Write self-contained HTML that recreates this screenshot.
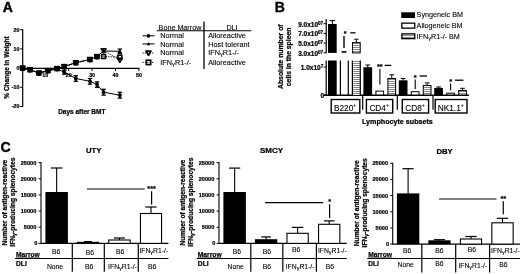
<!DOCTYPE html>
<html><head><meta charset="utf-8"><title>Figure</title>
<style>
html,body{margin:0;padding:0;background:#fff;}
svg{display:block;font-family:"Liberation Sans",Arial,sans-serif;fill:#000;}
text{stroke:#000;stroke-width:0.1px;}
text[font-weight="bold"]{stroke-width:0.22px;}
</style></head><body>
<svg width="520" height="274" viewBox="0 0 520 274">
<defs><pattern id="st" width="4" height="2" patternUnits="userSpaceOnUse"><rect width="4" height="2" fill="#fff"/><rect y="1" width="4" height="1" fill="#8a8a8a"/></pattern></defs>
<rect width="520" height="274" fill="#fff"/>
<text x="2.70" y="12.10" font-size="14" font-weight="bold" text-anchor="start" style="stroke-width:0.4px">A</text>
<line x1="22.70" y1="29.20" x2="22.70" y2="107.10" stroke="#000" stroke-width="1.2" />
<line x1="20.10" y1="29.70" x2="22.70" y2="29.70" stroke="#000" stroke-width="1" />
<text x="19.40" y="31.60" font-size="5.3" font-weight="bold" text-anchor="end" >20</text>
<line x1="20.10" y1="48.90" x2="22.70" y2="48.90" stroke="#000" stroke-width="1" />
<text x="19.40" y="50.80" font-size="5.3" font-weight="bold" text-anchor="end" >10</text>
<line x1="20.10" y1="68.10" x2="22.70" y2="68.10" stroke="#000" stroke-width="1" />
<text x="19.40" y="70.00" font-size="5.3" font-weight="bold" text-anchor="end" >0</text>
<line x1="20.10" y1="87.30" x2="22.70" y2="87.30" stroke="#000" stroke-width="1" />
<text x="19.40" y="89.20" font-size="5.3" font-weight="bold" text-anchor="end" >-10</text>
<line x1="20.10" y1="106.50" x2="22.70" y2="106.50" stroke="#000" stroke-width="1" />
<text x="19.40" y="108.40" font-size="5.3" font-weight="bold" text-anchor="end" >-20</text>
<line x1="22.70" y1="68.30" x2="139.40" y2="68.30" stroke="#000" stroke-width="1.2" />
<line x1="45.30" y1="68.30" x2="45.30" y2="71.10" stroke="#000" stroke-width="1" />
<text x="45.30" y="76.60" font-size="5.3" font-weight="bold" text-anchor="middle" >10</text>
<line x1="68.70" y1="68.30" x2="68.70" y2="71.10" stroke="#000" stroke-width="1" />
<text x="68.70" y="76.60" font-size="5.3" font-weight="bold" text-anchor="middle" >20</text>
<line x1="92.10" y1="68.30" x2="92.10" y2="71.10" stroke="#000" stroke-width="1" />
<text x="92.10" y="76.60" font-size="5.3" font-weight="bold" text-anchor="middle" >30</text>
<line x1="115.50" y1="68.30" x2="115.50" y2="71.10" stroke="#000" stroke-width="1" />
<text x="115.50" y="76.60" font-size="5.3" font-weight="bold" text-anchor="middle" >40</text>
<line x1="138.90" y1="68.30" x2="138.90" y2="71.10" stroke="#000" stroke-width="1" />
<text x="138.90" y="76.60" font-size="5.3" font-weight="bold" text-anchor="middle" >50</text>
<text transform="translate(8.60,67.50) rotate(-90)" font-size="6.5" font-weight="bold" text-anchor="middle">% Change in Weight</text>
<text x="81.80" y="114.30" font-size="6.5" font-weight="bold" text-anchor="middle" >Days after BMT</text>
<polyline points="22.60,68.20 30.00,69.70 38.90,73.10 48.10,70.60 57.10,69.00 64.30,72.20 75.80,78.50 90.00,81.30 97.05,84.60 103.60,92.20 119.85,95.20" fill="none" stroke="#000" stroke-width="1"/>
<circle cx="22.60" cy="68.20" r="1.9" fill="#000"/>
<circle cx="30.00" cy="69.70" r="1.9" fill="#000"/>
<circle cx="38.90" cy="73.10" r="1.9" fill="#000"/>
<circle cx="48.10" cy="70.60" r="1.9" fill="#000"/>
<line x1="57.10" y1="67.80" x2="57.10" y2="70.20" stroke="#000" stroke-width="1.5" />
<line x1="54.90" y1="67.80" x2="59.30" y2="67.80" stroke="#000" stroke-width="1.3" />
<line x1="54.90" y1="70.20" x2="59.30" y2="70.20" stroke="#000" stroke-width="1.3" />
<circle cx="57.10" cy="69.00" r="1.9" fill="#000"/>
<line x1="64.30" y1="70.20" x2="64.30" y2="74.20" stroke="#000" stroke-width="1.5" />
<line x1="62.10" y1="70.20" x2="66.50" y2="70.20" stroke="#000" stroke-width="1.3" />
<line x1="62.10" y1="74.20" x2="66.50" y2="74.20" stroke="#000" stroke-width="1.3" />
<circle cx="64.30" cy="72.20" r="1.9" fill="#000"/>
<line x1="75.80" y1="75.70" x2="75.80" y2="81.30" stroke="#000" stroke-width="1.5" />
<line x1="73.60" y1="75.70" x2="78.00" y2="75.70" stroke="#000" stroke-width="1.3" />
<line x1="73.60" y1="81.30" x2="78.00" y2="81.30" stroke="#000" stroke-width="1.3" />
<circle cx="75.80" cy="78.50" r="1.9" fill="#000"/>
<line x1="90.00" y1="78.50" x2="90.00" y2="84.10" stroke="#000" stroke-width="1.5" />
<line x1="87.80" y1="78.50" x2="92.20" y2="78.50" stroke="#000" stroke-width="1.3" />
<line x1="87.80" y1="84.10" x2="92.20" y2="84.10" stroke="#000" stroke-width="1.3" />
<circle cx="90.00" cy="81.30" r="1.9" fill="#000"/>
<line x1="97.05" y1="81.90" x2="97.05" y2="87.30" stroke="#000" stroke-width="1.5" />
<line x1="94.85" y1="81.90" x2="99.25" y2="81.90" stroke="#000" stroke-width="1.3" />
<line x1="94.85" y1="87.30" x2="99.25" y2="87.30" stroke="#000" stroke-width="1.3" />
<circle cx="97.05" cy="84.60" r="1.9" fill="#000"/>
<line x1="103.60" y1="89.30" x2="103.60" y2="95.10" stroke="#000" stroke-width="1.5" />
<line x1="101.40" y1="89.30" x2="105.80" y2="89.30" stroke="#000" stroke-width="1.3" />
<line x1="101.40" y1="95.10" x2="105.80" y2="95.10" stroke="#000" stroke-width="1.3" />
<circle cx="103.60" cy="92.20" r="1.9" fill="#000"/>
<line x1="119.85" y1="92.30" x2="119.85" y2="98.10" stroke="#000" stroke-width="1.5" />
<line x1="117.65" y1="92.30" x2="122.05" y2="92.30" stroke="#000" stroke-width="1.3" />
<line x1="117.65" y1="98.10" x2="122.05" y2="98.10" stroke="#000" stroke-width="1.3" />
<circle cx="119.85" cy="95.20" r="1.9" fill="#000"/>
<polyline points="22.60,68.20 30.00,69.70 38.90,73.10 48.10,70.60 57.10,68.60 64.30,66.60 75.80,62.70 90.00,59.50 97.05,56.60 103.60,51.00 119.85,51.30" fill="none" stroke="#000" stroke-width="1"/>
<line x1="119.85" y1="49.00" x2="119.85" y2="53.70" stroke="#000" stroke-width="1.2" />
<line x1="117.65" y1="49.00" x2="122.05" y2="49.00" stroke="#000" stroke-width="1.2" />
<line x1="117.65" y1="53.60" x2="122.05" y2="53.60" stroke="#000" stroke-width="1.2" />
<polygon points="20.20,70.20 25.00,70.20 22.60,65.70" fill="#000"/>
<polygon points="27.60,71.70 32.40,71.70 30.00,67.20" fill="#000"/>
<polygon points="36.50,75.10 41.30,75.10 38.90,70.60" fill="#000"/>
<polygon points="45.70,72.60 50.50,72.60 48.10,68.10" fill="#000"/>
<polygon points="54.70,70.60 59.50,70.60 57.10,66.10" fill="#000"/>
<polygon points="61.90,68.60 66.70,68.60 64.30,64.10" fill="#000"/>
<polygon points="73.40,64.70 78.20,64.70 75.80,60.20" fill="#000"/>
<polygon points="87.60,61.50 92.40,61.50 90.00,57.00" fill="#000"/>
<polygon points="94.65,58.60 99.45,58.60 97.05,54.10" fill="#000"/>
<polygon points="101.20,53.00 106.00,53.00 103.60,48.50" fill="#000"/>
<polygon points="117.45,53.30 122.25,53.30 119.85,48.80" fill="#000"/>
<polyline points="22.60,68.20 30.00,69.70 38.90,73.10 48.10,70.60 57.10,68.60 64.30,66.60 75.80,62.70 90.00,59.50 97.05,56.60 103.60,50.50 119.85,60.00" fill="none" stroke="#000" stroke-width="1" stroke-dasharray="1.2 1.2"/>
<polygon points="20.20,66.40 25.00,66.40 22.60,70.50" fill="none" stroke="#000" stroke-width="1.6" stroke-linejoin="round"/>
<polygon points="27.60,67.90 32.40,67.90 30.00,72.00" fill="none" stroke="#000" stroke-width="1.6" stroke-linejoin="round"/>
<polygon points="36.50,71.30 41.30,71.30 38.90,75.40" fill="none" stroke="#000" stroke-width="1.6" stroke-linejoin="round"/>
<polygon points="45.70,68.80 50.50,68.80 48.10,72.90" fill="none" stroke="#000" stroke-width="1.6" stroke-linejoin="round"/>
<polygon points="54.70,66.80 59.50,66.80 57.10,70.90" fill="none" stroke="#000" stroke-width="1.6" stroke-linejoin="round"/>
<polygon points="61.90,64.80 66.70,64.80 64.30,68.90" fill="none" stroke="#000" stroke-width="1.6" stroke-linejoin="round"/>
<polygon points="73.40,60.90 78.20,60.90 75.80,65.00" fill="none" stroke="#000" stroke-width="1.6" stroke-linejoin="round"/>
<polygon points="87.60,57.70 92.40,57.70 90.00,61.80" fill="none" stroke="#000" stroke-width="1.6" stroke-linejoin="round"/>
<polygon points="94.65,54.80 99.45,54.80 97.05,58.90" fill="none" stroke="#000" stroke-width="1.6" stroke-linejoin="round"/>
<polygon points="101.20,48.70 106.00,48.70 103.60,52.80" fill="none" stroke="#000" stroke-width="1.6" stroke-linejoin="round"/>
<polygon points="117.45,58.20 122.25,58.20 119.85,62.30" fill="none" stroke="#000" stroke-width="1.6" stroke-linejoin="round"/>
<polyline points="22.60,68.20 30.00,69.70 38.90,73.10 48.10,70.60 57.10,68.60 64.30,66.60 75.80,62.70 90.00,59.50 97.05,56.60 103.60,56.50 119.85,57.20" fill="none" stroke="#000" stroke-width="1" stroke-dasharray="1.2 1.2"/>
<rect x="20.65" y="66.25" width="3.9" height="3.9" fill="none" stroke="#000" stroke-width="1.6"/>
<rect x="28.05" y="67.75" width="3.9" height="3.9" fill="none" stroke="#000" stroke-width="1.6"/>
<rect x="36.95" y="71.15" width="3.9" height="3.9" fill="none" stroke="#000" stroke-width="1.6"/>
<rect x="46.15" y="68.65" width="3.9" height="3.9" fill="none" stroke="#000" stroke-width="1.6"/>
<rect x="55.15" y="66.65" width="3.9" height="3.9" fill="none" stroke="#000" stroke-width="1.6"/>
<rect x="62.35" y="64.65" width="3.9" height="3.9" fill="none" stroke="#000" stroke-width="1.6"/>
<rect x="73.85" y="60.75" width="3.9" height="3.9" fill="none" stroke="#000" stroke-width="1.6"/>
<rect x="88.05" y="57.55" width="3.9" height="3.9" fill="none" stroke="#000" stroke-width="1.6"/>
<rect x="95.10" y="54.65" width="3.9" height="3.9" fill="none" stroke="#000" stroke-width="1.6"/>
<rect x="101.65" y="54.55" width="3.9" height="3.9" fill="none" stroke="#000" stroke-width="1.6"/>
<rect x="117.90" y="55.25" width="3.9" height="3.9" fill="none" stroke="#000" stroke-width="1.6"/>
<text x="158.60" y="29.80" font-size="7.2" text-anchor="start" >Bone Marrow</text>
<text x="226.40" y="29.80" font-size="7.2" text-anchor="start" >DLI</text>
<line x1="156.60" y1="30.80" x2="251.20" y2="30.80" stroke="#000" stroke-width="1.1" />
<line x1="204.00" y1="21.50" x2="204.00" y2="69.00" stroke="#000" stroke-width="1.3" />
<text x="160.30" y="38.40" font-size="7.3" text-anchor="start" >Normal</text>
<text x="208.20" y="38.40" font-size="7.3" text-anchor="start" >Alloreactive</text>
<text x="160.30" y="46.50" font-size="7.3" text-anchor="start" >Normal</text>
<text x="208.20" y="46.50" font-size="7.3" text-anchor="start" >Host tolerant</text>
<text x="160.30" y="55.30" font-size="7.3" text-anchor="start" >Normal</text>
<text x="208.20" y="55.30" font-size="7.3" text-anchor="start" >IFN<tspan font-size="5.76" dy="1.1">γ</tspan><tspan dy="-1.1">R1-/-</tspan></text>
<text x="160.30" y="64.80" font-size="7.3" text-anchor="start" >IFN<tspan font-size="5.76" dy="1.1">γ</tspan><tspan dy="-1.1">R1-/-</tspan></text>
<text x="208.20" y="64.80" font-size="7.3" text-anchor="start" >Alloreactive</text>
<line x1="142.50" y1="35.80" x2="154.50" y2="35.80" stroke="#000" stroke-width="1" />
<circle cx="148.5" cy="35.8" r="1.9" fill="#000"/>
<line x1="142.50" y1="43.90" x2="154.50" y2="43.90" stroke="#000" stroke-width="1" />
<polygon points="146.7,45.3 150.3,45.3 148.5,42.1" fill="#000"/>
<line x1="142.50" y1="53.00" x2="154.50" y2="53.00" stroke="#000" stroke-width="1" stroke-dasharray="1.2 1.2"/>
<polygon points="146.1,51.1 150.9,51.1 148.5,55.2" fill="#fff" stroke="#000" stroke-width="1.8" stroke-linejoin="round"/>
<line x1="142.50" y1="62.40" x2="154.50" y2="62.40" stroke="#000" stroke-width="1" stroke-dasharray="1.2 1.2"/>
<rect x="146.3" y="60.199999999999996" width="4.4" height="4.4" fill="none" stroke="#000" stroke-width="1.6"/>
<text x="274.80" y="11.90" font-size="14" font-weight="bold" text-anchor="start" style="stroke-width:0.4px">B</text>
<line x1="326.20" y1="19.00" x2="326.20" y2="53.20" stroke="#000" stroke-width="1.2" />
<line x1="323.60" y1="23.70" x2="326.20" y2="23.70" stroke="#000" stroke-width="1" />
<text x="323.20" y="26.70" font-size="6.5" font-weight="bold" text-anchor="end" >9.0x10<tspan font-size="4.6" dy="-2.1">07</tspan></text>
<line x1="323.60" y1="33.40" x2="326.20" y2="33.40" stroke="#000" stroke-width="1" />
<text x="323.20" y="36.40" font-size="6.5" font-weight="bold" text-anchor="end" >7.0x10<tspan font-size="4.6" dy="-2.1">07</tspan></text>
<line x1="323.60" y1="43.10" x2="326.20" y2="43.10" stroke="#000" stroke-width="1" />
<text x="323.20" y="46.10" font-size="6.5" font-weight="bold" text-anchor="end" >5.0x10<tspan font-size="4.6" dy="-2.1">07</tspan></text>
<line x1="323.60" y1="52.80" x2="326.20" y2="52.80" stroke="#000" stroke-width="1" />
<text x="323.20" y="55.80" font-size="6.5" font-weight="bold" text-anchor="end" >3.0x10<tspan font-size="4.6" dy="-2.1">07</tspan></text>
<line x1="326.20" y1="60.40" x2="326.20" y2="95.40" stroke="#000" stroke-width="1.2" />
<line x1="323.60" y1="67.10" x2="326.20" y2="67.10" stroke="#000" stroke-width="1" />
<text x="323.20" y="70.00" font-size="6.5" font-weight="bold" text-anchor="end" >1.0x10<tspan font-size="4.6" dy="-2.1">7</tspan></text>
<line x1="323.60" y1="95.00" x2="326.20" y2="95.00" stroke="#000" stroke-width="1" />
<text x="324.00" y="97.60" font-size="6.5" font-weight="bold" text-anchor="end" >0</text>
<line x1="323.60" y1="95.30" x2="468.90" y2="95.30" stroke="#000" stroke-width="1.4" />
<text transform="translate(282.90,56.70) rotate(-90)" font-size="6.85" font-weight="bold" text-anchor="middle">Absolute number of</text>
<text transform="translate(291.40,56.90) rotate(-90)" font-size="6.8" font-weight="bold" text-anchor="middle">cells in the spleen</text>
<rect x="328.00" y="60.50" width="8.70" height="34.50" fill="#000" />
<line x1="340.40" y1="60.50" x2="340.40" y2="95.00" stroke="#000" stroke-width="1.2" />
<line x1="348.30" y1="60.50" x2="348.30" y2="95.00" stroke="#000" stroke-width="1.2" />
<rect x="352.50" y="60.50" width="7.70" height="34.50" fill="url(#st)" />
<line x1="352.40" y1="60.50" x2="352.40" y2="95.00" stroke="#000" stroke-width="1.2" />
<line x1="360.30" y1="60.50" x2="360.30" y2="95.00" stroke="#000" stroke-width="1.2" />
<rect x="328.00" y="24.00" width="8.70" height="28.90" fill="#000" />
<line x1="332.35" y1="24.00" x2="332.35" y2="20.60" stroke="#000" stroke-width="1" />
<line x1="329.55" y1="20.60" x2="335.15" y2="20.60" stroke="#000" stroke-width="1" />
<line x1="341.60" y1="51.90" x2="346.40" y2="51.90" stroke="#000" stroke-width="1.6" />
<rect x="352.50" y="42.60" width="7.70" height="10.30" fill="url(#st)" stroke="#000" stroke-width="1" />
<line x1="356.35" y1="42.10" x2="356.35" y2="39.20" stroke="#000" stroke-width="1" />
<line x1="354.15" y1="39.20" x2="358.55" y2="39.20" stroke="#000" stroke-width="1" />
<text x="345.20" y="36.00" font-size="7" font-weight="bold" text-anchor="middle" >*</text>
<line x1="344.00" y1="36.00" x2="344.00" y2="48.00" stroke="#000" stroke-width="1.4" />
<line x1="350.30" y1="32.80" x2="355.50" y2="32.80" stroke="#000" stroke-width="1.3" />
<rect x="363.40" y="67.20" width="8.70" height="27.80" fill="#000" />
<line x1="367.75" y1="67.20" x2="367.75" y2="65.00" stroke="#000" stroke-width="1" />
<line x1="365.35" y1="65.00" x2="370.15" y2="65.00" stroke="#000" stroke-width="1" />
<rect x="375.90" y="91.10" width="7.70" height="3.90" fill="#fff" stroke="#000" stroke-width="1" />
<rect x="387.90" y="78.50" width="7.70" height="16.50" fill="url(#st)" stroke="#000" stroke-width="1" />
<line x1="391.75" y1="78.00" x2="391.75" y2="74.80" stroke="#000" stroke-width="1" />
<line x1="389.35" y1="74.80" x2="394.15" y2="74.80" stroke="#000" stroke-width="1" />
<rect x="398.80" y="80.30" width="8.70" height="14.70" fill="#000" />
<line x1="403.15" y1="80.30" x2="403.15" y2="78.50" stroke="#000" stroke-width="1" />
<line x1="400.75" y1="78.50" x2="405.55" y2="78.50" stroke="#000" stroke-width="1" />
<rect x="411.30" y="91.70" width="7.70" height="3.30" fill="#fff" stroke="#000" stroke-width="1" />
<rect x="423.30" y="85.50" width="7.70" height="9.50" fill="url(#st)" stroke="#000" stroke-width="1" />
<line x1="427.15" y1="85.00" x2="427.15" y2="82.90" stroke="#000" stroke-width="1" />
<line x1="424.75" y1="82.90" x2="429.55" y2="82.90" stroke="#000" stroke-width="1" />
<rect x="434.20" y="87.90" width="8.70" height="7.10" fill="#000" />
<line x1="438.55" y1="87.90" x2="438.55" y2="87.00" stroke="#000" stroke-width="1" />
<line x1="436.15" y1="87.00" x2="440.95" y2="87.00" stroke="#000" stroke-width="1" />
<rect x="446.70" y="93.20" width="7.70" height="1.80" fill="#fff" stroke="#000" stroke-width="1" />
<rect x="458.70" y="90.50" width="7.70" height="4.50" fill="url(#st)" stroke="#000" stroke-width="1" />
<line x1="462.55" y1="90.00" x2="462.55" y2="88.30" stroke="#000" stroke-width="1" />
<line x1="460.15" y1="88.30" x2="464.95" y2="88.30" stroke="#000" stroke-width="1" />
<text x="379.80" y="69.00" font-size="7.5" font-weight="bold" text-anchor="middle" >**</text>
<line x1="379.90" y1="69.00" x2="379.90" y2="84.60" stroke="#000" stroke-width="1.1" />
<line x1="384.60" y1="65.40" x2="391.30" y2="65.40" stroke="#000" stroke-width="1.3" />
<text x="415.20" y="80.20" font-size="7.5" font-weight="bold" text-anchor="middle" >*</text>
<line x1="415.20" y1="79.60" x2="415.20" y2="89.00" stroke="#000" stroke-width="1.1" />
<line x1="419.60" y1="76.00" x2="427.00" y2="76.00" stroke="#000" stroke-width="1.3" />
<text x="450.60" y="84.40" font-size="7.5" font-weight="bold" text-anchor="middle" >*</text>
<line x1="450.60" y1="83.60" x2="450.60" y2="90.20" stroke="#000" stroke-width="1.1" />
<line x1="455.00" y1="80.20" x2="463.40" y2="80.20" stroke="#000" stroke-width="1.3" />
<rect x="331.20" y="99.50" width="28.60" height="13.50" fill="#fff" stroke="#000" stroke-width="1.4" />
<text x="345.10" y="110.60" font-size="8.3" text-anchor="middle" >B220<tspan font-size="5" dy="-3.6">+</tspan></text>
<rect x="366.40" y="99.50" width="26.30" height="13.50" fill="#fff" stroke="#000" stroke-width="1.4" />
<text x="379.15" y="110.60" font-size="8.3" text-anchor="middle" >CD4<tspan font-size="5" dy="-3.6">+</tspan></text>
<rect x="402.30" y="99.50" width="26.30" height="13.50" fill="#fff" stroke="#000" stroke-width="1.4" />
<text x="415.05" y="110.60" font-size="8.3" text-anchor="middle" >CD8<tspan font-size="5" dy="-3.6">+</tspan></text>
<rect x="435.20" y="99.50" width="31.80" height="13.50" fill="#fff" stroke="#000" stroke-width="1.4" />
<text x="450.70" y="110.60" font-size="8.3" text-anchor="middle" >NK1.1<tspan font-size="5" dy="-3.6">+</tspan></text>
<line x1="362.70" y1="95.00" x2="362.70" y2="109.80" stroke="#000" stroke-width="1.2" />
<line x1="397.30" y1="95.00" x2="397.30" y2="109.80" stroke="#000" stroke-width="1.2" />
<line x1="433.00" y1="95.00" x2="433.00" y2="109.80" stroke="#000" stroke-width="1.2" />
<text x="397.40" y="124.20" font-size="7.15" font-weight="bold" text-anchor="middle" >Lymphocyte subsets</text>
<rect x="401.20" y="12.30" width="13.80" height="5.70" fill="#000" />
<rect x="401.85" y="23.15" width="12.90" height="5.00" fill="#fff" stroke="#000" stroke-width="1.3" />
<rect x="401.85" y="33.85" width="12.90" height="4.80" fill="url(#st)" stroke="#000" stroke-width="1.3" />
<text x="416.60" y="17.20" font-size="7.2" text-anchor="start" >Syngeneic BM</text>
<text x="416.60" y="28.20" font-size="7.2" text-anchor="start" >Allogeneic BM</text>
<text x="416.60" y="39.10" font-size="7.2" text-anchor="start" >IFN<tspan font-size="5.76" dy="1.1">γ</tspan><tspan dy="-1.1">R1-/-</tspan> BM</text>
<text x="0.60" y="151.80" font-size="14" font-weight="bold" text-anchor="start" style="stroke-width:0.4px">C</text>
<line x1="41.00" y1="162.10" x2="41.00" y2="243.90" stroke="#000" stroke-width="1.1" />
<line x1="38.60" y1="243.40" x2="41.00" y2="243.40" stroke="#000" stroke-width="1" />
<text x="37.40" y="245.35" font-size="5.6" font-weight="bold" text-anchor="end" >0</text>
<line x1="38.60" y1="227.24" x2="41.00" y2="227.24" stroke="#000" stroke-width="1" />
<text x="36.30" y="229.19" font-size="5.6" font-weight="bold" text-anchor="end" >5000</text>
<line x1="38.60" y1="211.08" x2="41.00" y2="211.08" stroke="#000" stroke-width="1" />
<text x="36.30" y="213.03" font-size="5.6" font-weight="bold" text-anchor="end" >10000</text>
<line x1="38.60" y1="194.92" x2="41.00" y2="194.92" stroke="#000" stroke-width="1" />
<text x="36.30" y="196.87" font-size="5.6" font-weight="bold" text-anchor="end" >15000</text>
<line x1="38.60" y1="178.76" x2="41.00" y2="178.76" stroke="#000" stroke-width="1" />
<text x="36.30" y="180.71" font-size="5.6" font-weight="bold" text-anchor="end" >20000</text>
<line x1="38.60" y1="162.60" x2="41.00" y2="162.60" stroke="#000" stroke-width="1" />
<text x="36.30" y="164.55" font-size="5.6" font-weight="bold" text-anchor="end" >25000</text>
<line x1="41.00" y1="243.40" x2="168.40" y2="243.40" stroke="#000" stroke-width="1.1" />
<text transform="translate(7.40,202.60) rotate(-90)" font-size="6.64" font-weight="bold" text-anchor="middle">Number of antigen-reactive</text>
<text transform="translate(15.20,202.10) rotate(-90)" font-size="6.7" font-weight="bold" text-anchor="middle">IFN<tspan font-size="5.4" dy="1">γ</tspan><tspan dy="-1">-producing splenocytes</tspan></text>
<text x="93.70" y="152.90" font-size="7.7" font-weight="bold" text-anchor="middle" >UTY</text>
<line x1="56.65" y1="192.40" x2="56.65" y2="168.00" stroke="#000" stroke-width="1.1" />
<line x1="50.85" y1="168.00" x2="62.45" y2="168.00" stroke="#000" stroke-width="1.2" />
<rect x="45.40" y="192.00" width="22.50" height="51.40" fill="#000" />
<line x1="88.05" y1="242.20" x2="88.05" y2="241.60" stroke="#000" stroke-width="1.1" />
<line x1="84.05" y1="241.60" x2="92.05" y2="241.60" stroke="#000" stroke-width="1.2" />
<rect x="76.80" y="241.80" width="22.50" height="1.60" fill="#000" />
<line x1="119.45" y1="240.00" x2="119.45" y2="238.00" stroke="#000" stroke-width="1.1" />
<line x1="113.85" y1="238.00" x2="125.05" y2="238.00" stroke="#000" stroke-width="1.2" />
<rect x="108.75" y="240.00" width="21.40" height="3.40" fill="#fff" stroke="#000" stroke-width="1.1" />
<line x1="151.00" y1="213.50" x2="151.00" y2="207.00" stroke="#000" stroke-width="1.1" />
<line x1="145.40" y1="207.00" x2="156.60" y2="207.00" stroke="#000" stroke-width="1.2" />
<rect x="140.45" y="213.50" width="21.10" height="29.90" fill="#fff" stroke="#000" stroke-width="1.1" />
<line x1="87.00" y1="189.00" x2="144.60" y2="189.00" stroke="#000" stroke-width="1.2" />
<text x="151.60" y="190.70" font-size="7.3" font-weight="bold" text-anchor="middle" >***</text>
<line x1="151.60" y1="191.20" x2="151.60" y2="204.60" stroke="#000" stroke-width="1.2" />
<line x1="15.00" y1="258.50" x2="168.40" y2="258.50" stroke="#000" stroke-width="1.2" />
<line x1="16.00" y1="257.75" x2="39.60" y2="257.75" stroke="#000" stroke-width="0.6" />
<line x1="72.30" y1="243.40" x2="72.30" y2="271.80" stroke="#000" stroke-width="1.2" />
<line x1="104.30" y1="243.40" x2="104.30" y2="271.80" stroke="#000" stroke-width="1.2" />
<line x1="138.30" y1="243.40" x2="138.30" y2="271.80" stroke="#000" stroke-width="1.2" />
<text x="16.00" y="257.20" font-size="6.7" font-weight="bold" text-anchor="start" >Marrow</text>
<text x="16.00" y="265.90" font-size="6.7" font-weight="bold" text-anchor="start" >DLI</text>
<text x="56.10" y="253.75" font-size="6.8" text-anchor="middle" >B6</text>
<text x="89.90" y="254.65" font-size="6.8" text-anchor="middle" >B6</text>
<text x="120.10" y="253.55" font-size="6.8" text-anchor="middle" >B6</text>
<text x="153.80" y="253.15" font-size="6.8" text-anchor="middle" >IFN<tspan font-size="5.44" dy="1.1">γ</tspan><tspan dy="-1.1">R1-/-</tspan></text>
<text x="55.00" y="268.95" font-size="6.8" text-anchor="middle" >None</text>
<text x="89.20" y="269.35" font-size="6.8" text-anchor="middle" >B6</text>
<text x="122.50" y="269.05" font-size="6.8" text-anchor="middle" >IFN<tspan font-size="5.44" dy="1.1">γ</tspan><tspan dy="-1.1">R1-/-</tspan></text>
<text x="152.20" y="269.05" font-size="6.8" text-anchor="middle" >B6</text>
<line x1="219.00" y1="162.10" x2="219.00" y2="243.90" stroke="#000" stroke-width="1.1" />
<line x1="216.60" y1="243.40" x2="219.00" y2="243.40" stroke="#000" stroke-width="1" />
<text x="215.40" y="245.35" font-size="5.6" font-weight="bold" text-anchor="end" >0</text>
<line x1="216.60" y1="227.24" x2="219.00" y2="227.24" stroke="#000" stroke-width="1" />
<text x="214.30" y="229.19" font-size="5.6" font-weight="bold" text-anchor="end" >5000</text>
<line x1="216.60" y1="211.08" x2="219.00" y2="211.08" stroke="#000" stroke-width="1" />
<text x="214.30" y="213.03" font-size="5.6" font-weight="bold" text-anchor="end" >10000</text>
<line x1="216.60" y1="194.92" x2="219.00" y2="194.92" stroke="#000" stroke-width="1" />
<text x="214.30" y="196.87" font-size="5.6" font-weight="bold" text-anchor="end" >15000</text>
<line x1="216.60" y1="178.76" x2="219.00" y2="178.76" stroke="#000" stroke-width="1" />
<text x="214.30" y="180.71" font-size="5.6" font-weight="bold" text-anchor="end" >20000</text>
<line x1="216.60" y1="162.60" x2="219.00" y2="162.60" stroke="#000" stroke-width="1" />
<text x="214.30" y="164.55" font-size="5.6" font-weight="bold" text-anchor="end" >25000</text>
<line x1="219.00" y1="243.40" x2="346.80" y2="243.40" stroke="#000" stroke-width="1.1" />
<text transform="translate(185.40,202.60) rotate(-90)" font-size="6.64" font-weight="bold" text-anchor="middle">Number of antigen-reactive</text>
<text transform="translate(193.20,202.10) rotate(-90)" font-size="6.7" font-weight="bold" text-anchor="middle">IFN<tspan font-size="5.4" dy="1">γ</tspan><tspan dy="-1">-producing splenocytes</tspan></text>
<text x="271.50" y="152.90" font-size="8.0" font-weight="bold" text-anchor="middle" >SMCY</text>
<line x1="234.65" y1="192.40" x2="234.65" y2="168.10" stroke="#000" stroke-width="1.1" />
<line x1="229.05" y1="168.10" x2="240.25" y2="168.10" stroke="#000" stroke-width="1.2" />
<rect x="223.40" y="192.00" width="22.50" height="51.40" fill="#000" />
<line x1="266.10" y1="239.60" x2="266.10" y2="236.90" stroke="#000" stroke-width="1.1" />
<line x1="261.30" y1="236.90" x2="270.90" y2="236.90" stroke="#000" stroke-width="1.2" />
<rect x="254.90" y="239.20" width="22.40" height="4.20" fill="#000" />
<line x1="297.60" y1="233.30" x2="297.60" y2="227.40" stroke="#000" stroke-width="1.1" />
<line x1="291.80" y1="227.40" x2="303.40" y2="227.40" stroke="#000" stroke-width="1.2" />
<rect x="286.95" y="233.30" width="21.30" height="10.10" fill="#fff" stroke="#000" stroke-width="1.1" />
<line x1="329.20" y1="224.30" x2="329.20" y2="220.90" stroke="#000" stroke-width="1.1" />
<line x1="323.90" y1="220.90" x2="334.50" y2="220.90" stroke="#000" stroke-width="1.2" />
<rect x="318.55" y="224.30" width="21.30" height="19.10" fill="#fff" stroke="#000" stroke-width="1.1" />
<line x1="265.10" y1="202.60" x2="323.20" y2="202.60" stroke="#000" stroke-width="1.2" />
<text x="329.60" y="204.20" font-size="7.3" font-weight="bold" text-anchor="middle" >*</text>
<line x1="329.60" y1="204.20" x2="329.60" y2="218.00" stroke="#000" stroke-width="1.2" />
<line x1="196.80" y1="258.50" x2="346.80" y2="258.50" stroke="#000" stroke-width="1.2" />
<line x1="197.80" y1="257.75" x2="221.40" y2="257.75" stroke="#000" stroke-width="0.6" />
<line x1="250.80" y1="243.40" x2="250.80" y2="271.80" stroke="#000" stroke-width="1.2" />
<line x1="282.80" y1="243.40" x2="282.80" y2="271.80" stroke="#000" stroke-width="1.2" />
<line x1="316.40" y1="243.40" x2="316.40" y2="271.80" stroke="#000" stroke-width="1.2" />
<text x="197.80" y="257.20" font-size="6.7" font-weight="bold" text-anchor="start" >Marrow</text>
<text x="197.80" y="265.90" font-size="6.7" font-weight="bold" text-anchor="start" >DLI</text>
<text x="236.80" y="253.55" font-size="6.8" text-anchor="middle" >B6</text>
<text x="266.80" y="253.55" font-size="6.8" text-anchor="middle" >B6</text>
<text x="296.10" y="252.35" font-size="6.8" text-anchor="middle" >B6</text>
<text x="332.30" y="252.95" font-size="6.8" text-anchor="middle" >IFN<tspan font-size="5.44" dy="1.1">γ</tspan><tspan dy="-1.1">R1-/-</tspan></text>
<text x="235.60" y="268.75" font-size="6.8" text-anchor="middle" >None</text>
<text x="266.80" y="268.75" font-size="6.8" text-anchor="middle" >B6</text>
<text x="300.10" y="268.75" font-size="6.8" text-anchor="middle" >IFN<tspan font-size="5.44" dy="1.1">γ</tspan><tspan dy="-1.1">R1-/-</tspan></text>
<text x="330.00" y="268.75" font-size="6.8" text-anchor="middle" >B6</text>
<line x1="392.70" y1="162.80" x2="392.70" y2="244.60" stroke="#000" stroke-width="1.1" />
<line x1="390.30" y1="244.10" x2="392.70" y2="244.10" stroke="#000" stroke-width="1" />
<text x="389.10" y="246.05" font-size="5.6" font-weight="bold" text-anchor="end" >0</text>
<line x1="390.30" y1="227.94" x2="392.70" y2="227.94" stroke="#000" stroke-width="1" />
<text x="388.00" y="229.89" font-size="5.6" font-weight="bold" text-anchor="end" >5000</text>
<line x1="390.30" y1="211.78" x2="392.70" y2="211.78" stroke="#000" stroke-width="1" />
<text x="388.00" y="213.73" font-size="5.6" font-weight="bold" text-anchor="end" >10000</text>
<line x1="390.30" y1="195.62" x2="392.70" y2="195.62" stroke="#000" stroke-width="1" />
<text x="388.00" y="197.57" font-size="5.6" font-weight="bold" text-anchor="end" >15000</text>
<line x1="390.30" y1="179.46" x2="392.70" y2="179.46" stroke="#000" stroke-width="1" />
<text x="388.00" y="181.41" font-size="5.6" font-weight="bold" text-anchor="end" >20000</text>
<line x1="390.30" y1="163.30" x2="392.70" y2="163.30" stroke="#000" stroke-width="1" />
<text x="388.00" y="165.25" font-size="5.6" font-weight="bold" text-anchor="end" >25000</text>
<line x1="392.70" y1="244.10" x2="520.00" y2="244.10" stroke="#000" stroke-width="1.1" />
<text transform="translate(359.00,203.30) rotate(-90)" font-size="6.64" font-weight="bold" text-anchor="middle">Number of antigen-reactive</text>
<text transform="translate(366.80,202.80) rotate(-90)" font-size="6.7" font-weight="bold" text-anchor="middle">IFN<tspan font-size="5.4" dy="1">γ</tspan><tspan dy="-1">-producing splenocytes</tspan></text>
<text x="444.50" y="153.60" font-size="7.7" font-weight="bold" text-anchor="middle" >DBY</text>
<line x1="408.10" y1="193.80" x2="408.10" y2="168.70" stroke="#000" stroke-width="1.1" />
<line x1="402.50" y1="168.70" x2="413.70" y2="168.70" stroke="#000" stroke-width="1.2" />
<rect x="396.90" y="193.40" width="22.40" height="50.70" fill="#000" />
<line x1="439.45" y1="240.70" x2="439.45" y2="239.70" stroke="#000" stroke-width="1.1" />
<line x1="433.85" y1="239.70" x2="445.05" y2="239.70" stroke="#000" stroke-width="1.2" />
<rect x="428.30" y="240.30" width="22.30" height="3.80" fill="#000" />
<line x1="471.00" y1="239.00" x2="471.00" y2="236.50" stroke="#000" stroke-width="1.1" />
<line x1="465.30" y1="236.50" x2="476.70" y2="236.50" stroke="#000" stroke-width="1.2" />
<rect x="460.45" y="239.00" width="21.10" height="5.10" fill="#fff" stroke="#000" stroke-width="1.1" />
<line x1="502.50" y1="222.80" x2="502.50" y2="218.30" stroke="#000" stroke-width="1.1" />
<line x1="496.80" y1="218.30" x2="508.20" y2="218.30" stroke="#000" stroke-width="1.2" />
<rect x="491.85" y="222.80" width="21.30" height="21.30" fill="#fff" stroke="#000" stroke-width="1.1" />
<line x1="439.10" y1="199.00" x2="496.50" y2="199.00" stroke="#000" stroke-width="1.2" />
<text x="503.30" y="201.20" font-size="7.3" font-weight="bold" text-anchor="middle" >**</text>
<line x1="503.30" y1="201.20" x2="503.30" y2="214.30" stroke="#000" stroke-width="1.2" />
<line x1="367.20" y1="258.50" x2="520.00" y2="258.50" stroke="#000" stroke-width="1.2" />
<line x1="368.20" y1="257.75" x2="391.80" y2="257.75" stroke="#000" stroke-width="0.6" />
<line x1="421.80" y1="244.10" x2="421.80" y2="272.50" stroke="#000" stroke-width="1.2" />
<line x1="455.70" y1="244.10" x2="455.70" y2="272.50" stroke="#000" stroke-width="1.2" />
<line x1="489.60" y1="244.10" x2="489.60" y2="272.50" stroke="#000" stroke-width="1.2" />
<text x="368.20" y="257.41" font-size="6.7" font-weight="bold" text-anchor="start" >Marrow</text>
<text x="368.20" y="266.11" font-size="6.7" font-weight="bold" text-anchor="start" >DLI</text>
<text x="407.10" y="252.85" font-size="6.8" text-anchor="middle" >B6</text>
<text x="439.50" y="252.85" font-size="6.8" text-anchor="middle" >B6</text>
<text x="472.00" y="251.95" font-size="6.8" text-anchor="middle" >B6</text>
<text x="505.40" y="253.25" font-size="6.8" text-anchor="middle" >IFN<tspan font-size="5.44" dy="1.1">γ</tspan><tspan dy="-1.1">R1-/-</tspan></text>
<text x="405.70" y="266.85" font-size="6.8" text-anchor="middle" >None</text>
<text x="439.50" y="265.75" font-size="6.8" text-anchor="middle" >B6</text>
<text x="472.80" y="267.95" font-size="6.8" text-anchor="middle" >IFN<tspan font-size="5.44" dy="1.1">γ</tspan><tspan dy="-1.1">R1-/-</tspan></text>
<text x="503.50" y="267.35" font-size="6.8" text-anchor="middle" >B6</text>
</svg>
</body></html>
